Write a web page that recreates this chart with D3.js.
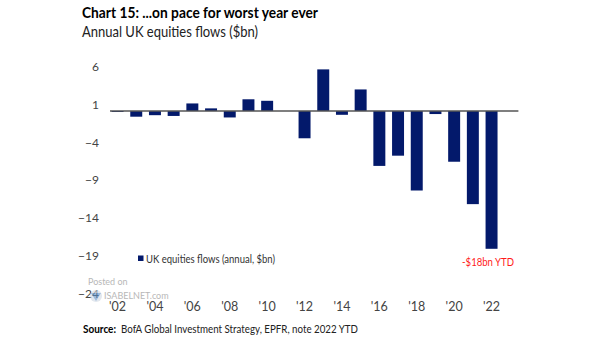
<!DOCTYPE html>
<html><head><meta charset="utf-8">
<script src="https://cdn.jsdelivr.net/npm/d3@7"></script>
<style>body{margin:0;background:#fff}svg{display:block}text{font-family:Lato,"Open Sans",sans-serif}</style>
</head><body>
<script>
const years = [2002,2003,2004,2005,2006,2007,2008,2009,2010,2011,2012,2013,2014,2015,2016,2017,2018,2019,2020,2021,2022];
const flows = [-0.13,-0.75,-0.55,-0.65,1.0,0.35,-0.85,1.55,1.35,0,-3.6,5.5,-0.5,2.85,-7.25,-5.9,-10.5,-0.4,-6.7,-12.3,-18.2];
const yTicks = [6,1,-4,-9,-14,-19,-24];
const xTickYears = [2002,2004,2006,2008,2010,2012,2014,2016,2018,2020,2022];
const xTickLabels = ["'02","'04","'06","'08","'10","'12","'14","'16","'18","'20","'22"];
const title = "Chart 15: ...on pace for worst year ever";
const subtitle = "Annual UK equities flows ($bn)";
const legendLabel = "UK equities flows (annual, $bn)";
const annotation = "-$18bn YTD";
const sourceLabel = "Source:";
const sourceText = "BofA Global Investment Strategy, EPFR, note 2022  YTD";

const W=605,H=341;
const svg=d3.select("body").append("svg").attr("width",W).attr("height",H);

const x=d3.scaleBand().domain(years).range([108.2,500.9]).paddingInner(0.36).paddingOuter(0.18);
const y=d3.scaleLinear().domain([-24,6]).range([292.7,65.6]);

// title
svg.append("text").attr("x",82).attr("y",17.5).attr("font-size",15).attr("font-weight","bold")
  .attr("fill","#000").attr("textLength",236).attr("lengthAdjust","spacingAndGlyphs").text(title);
svg.append("text").attr("x",82).attr("y",36.5).attr("font-size",15)
  .attr("fill","#222").attr("textLength",176).attr("lengthAdjust","spacingAndGlyphs").text(subtitle);

// y axis labels
const yAxis=d3.axisLeft(y).tickValues(yTicks).tickSize(0).tickPadding(0).tickFormat(d3.format("d"));
const ga=svg.append("g").attr("transform","translate(99,1)").call(yAxis);
ga.select(".domain").remove();
ga.selectAll("text").attr("font-size",12).attr("fill","#444").attr("font-family","Lato,sans-serif");

// bars
svg.append("g").selectAll("rect").data(years.map((yr,i)=>({yr,v:flows[i]}))).join("rect")
  .attr("x",d=>x(d.yr)).attr("width",x.bandwidth())
  .attr("y",d=>y(Math.max(0,d.v))).attr("height",d=>Math.abs(y(d.v)-y(0)))
  .attr("fill","#03196b");

// baseline
svg.append("line").attr("x1",x.range()[0]+1.8).attr("x2",x.range()[1]+17.5)
  .attr("y1",y(0)).attr("y2",y(0)).attr("stroke","#555").attr("stroke-width",1.3);

// watermark (drawn beneath axis labels)
const wm=svg.append("g").attr("opacity",0.6);
wm.append("text").attr("x",88).attr("y",285).attr("font-size",9).attr("fill","#888").attr("font-family","Arial,sans-serif").text("Posted on");
wm.append("circle").attr("cx",96).attr("cy",296).attr("r",6).attr("fill","#cfd8e3");
wm.append("path").attr("d","M91,293 L101,293 L96,301 Z").attr("fill","#5b8fc7");
wm.append("text").attr("x",104).attr("y",298.5).attr("font-size",9).attr("fill","#888").attr("font-family","Arial,sans-serif").text("ISABELNET.com");

// x labels
const xAxis=d3.axisBottom(x).tickValues(xTickYears).tickSize(0).tickPadding(0)
  .tickFormat(d=>xTickLabels[xTickYears.indexOf(d)]);
const gx=svg.append("g").attr("transform","translate(0,302.5)").call(xAxis);
gx.select(".domain").remove();
gx.selectAll("text").attr("font-size",12.5).attr("fill","#444").attr("font-family","Lato,sans-serif");

// legend
svg.append("rect").attr("x",138).attr("y",255.5).attr("width",5.5).attr("height",5.5).attr("fill","#03196b");
svg.append("text").attr("x",146).attr("y",262.5).attr("font-size",12).attr("fill","#333")
  .attr("textLength",129).attr("lengthAdjust","spacingAndGlyphs").text(legendLabel);

// annotation
svg.append("text").attr("x",462).attr("y",265.5).attr("font-size",12).attr("fill","#ff1a1a")
  .attr("textLength",52).attr("lengthAdjust","spacingAndGlyphs").text(annotation);

// source
svg.append("text").attr("x",83).attr("y",333).attr("font-size",12).attr("font-weight","bold").attr("fill","#000")
  .attr("textLength",33).attr("lengthAdjust","spacingAndGlyphs").text(sourceLabel);
svg.append("text").attr("x",121).attr("y",333).attr("font-size",12).attr("fill","#222")
  .attr("textLength",237).attr("lengthAdjust","spacingAndGlyphs").text(sourceText);
</script>
</body></html>
